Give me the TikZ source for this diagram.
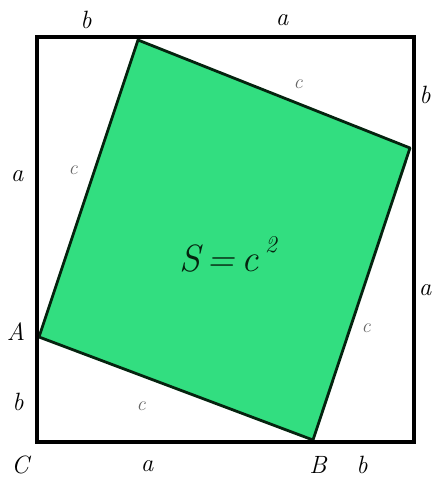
\documentclass[tikz,border=0pt]{standalone}
\usepackage{fontspec}
\definecolor{sqgreen}{RGB}{50,222,128}
\definecolor{edgedark}{RGB}{5,35,15}
\begin{document}
\begin{tikzpicture}[x=1pt,y=-1pt,
  lbl/.style={inner sep=0pt,font=\fontsize{25}{28}\selectfont\itshape},
  clbl/.style={inner sep=0pt,font=\fontsize{20}{22}\selectfont\itshape,text=black!60}]
\useasboundingbox (0,0) rectangle (432,478);
\coordinate (C) at (37,442);
\coordinate (TL) at (37,37);
\coordinate (TR) at (414,37);
\coordinate (BR) at (414,442);
\coordinate (P1) at (138,40);
\coordinate (P2) at (410,148);
\coordinate (P3) at (313,440);
\coordinate (P4) at (39,337);
\fill[sqgreen] (P1) -- (P2) -- (P3) -- (P4) -- cycle;
\draw[edgedark,line width=2.8pt,line join=round] (P1) -- (P2) -- (P3) -- (P4) -- cycle;
\draw[black,line width=3.2pt] (TL) rectangle (BR);
\node[lbl] (lb1) at (86,20) {b};
\node[lbl] (la1) at (282,20) {a};
\node[lbl] (lb2) at (425,95) {b};
\node[lbl] (la2) at (425,290) {a};
\node[lbl] (la3) at (17,176) {a};
\node[lbl] (lA) at (16,332) {A};
\node[lbl] (lb3) at (18,402) {b};
\node[lbl] (lC) at (20,465) {C};
\node[lbl] (la4) at (147,466) {a};
\node[lbl] (lB) at (318,465) {B};
\node[lbl] (lb4) at (362,465) {b};
\node[clbl] (c1) at (298,84) {c};
\node[clbl] (c2) at (73,170) {c};
\node[clbl] (c3) at (366,328) {c};
\node[clbl] (c4) at (141,406) {c};
\node[inner sep=0pt,font=\fontsize{38}{42}\selectfont\itshape,text=edgedark] (S) at (228,254) {S\,=\,c\,\raisebox{0.5em}{\fontsize{24}{26}\selectfont 2}};
\end{tikzpicture}
\end{document}
